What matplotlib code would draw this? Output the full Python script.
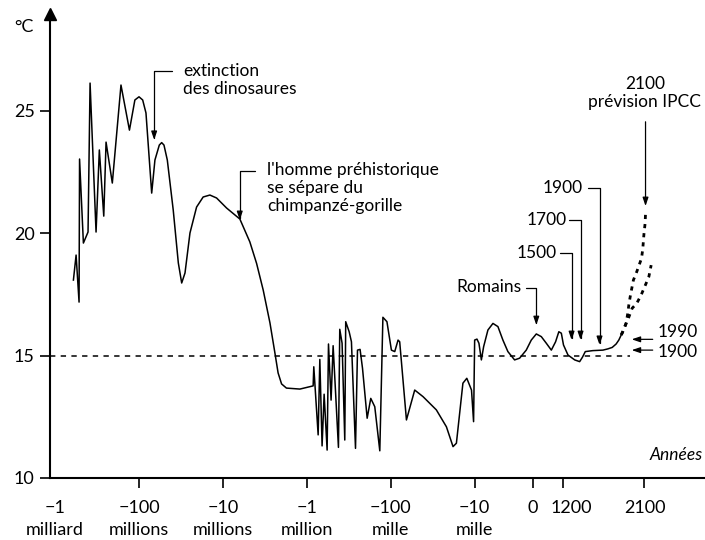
import numpy as np
import matplotlib.pyplot as plt
from matplotlib.transforms import ScaledTranslation

plt.rcParams['font.family'] = ['Lato', 'DejaVu Sans']

# deep time: age in years before present, temperature in degC
deep_age = [6.05e8, 5.62e8, 5.18e8, 5.11e8, 4.60e8, 4.05e8, 3.83e8, 3.25e8, 2.97e8, 2.63e8,
            2.47e8, 2.08e8, 1.64e8, 1.30e8, 1.12e8, 1.00e8, 9.04e7, 8.26e7, 7.06e7, 6.46e7,
            5.73e7, 5.37e7, 5.04e7, 4.60e7, 3.91e7, 3.40e7, 3.10e7, 2.83e7, 2.47e7, 2.06e7,
            1.72e7, 1.43e7, 1.19e7, 9.04e6, 6.28e6, 4.78e6, 3.97e6, 3.31e6, 2.75e6, 2.40e6,
            2.20e6, 2.00e6, 1.75e6, 1.21e6, 8.41e5, 8.26e5, 7.33e5, 7.00e5, 6.58e5, 6.22e5,
            5.73e5, 5.52e5, 5.14e5, 4.86e5, 4.20e5, 4.05e5, 3.80e5, 3.53e5, 3.44e5, 3.13e5,
            2.94e5, 2.63e5, 2.49e5, 2.32e5, 2.17e5, 1.91e5, 1.73e5, 1.55e5, 1.35e5, 1.24e5,
            1.11e5, 9.82e4, 8.96e4, 8.18e4, 7.82e4, 6.50e4, 5.18e4, 4.12e4, 2.86e4, 2.17e4,
            1.81e4, 1.65e4, 1.38e4, 1.24e4, 1.09e4, 1.03e4, 1.00e4]
deep_temp = [18.08, 19.10, 17.18, 23.02, 19.59, 20.04, 26.12, 20.04, 23.39, 20.69,
             23.71, 22.04, 26.04, 24.20, 25.43, 25.56, 25.43, 24.90, 21.63, 22.98,
             23.59, 23.69, 23.59, 22.98, 20.94, 18.78, 17.96, 18.37, 20.00, 21.06,
             21.47, 21.55, 21.43, 21.02, 20.57, 19.64, 18.76, 17.67, 16.33, 15.10,
             14.29, 13.84, 13.67, 13.63, 13.76, 14.54, 11.76, 14.84, 11.31, 13.42,
             11.14, 15.47, 13.18, 15.40, 11.25, 16.07, 15.50, 11.55, 16.38, 15.97,
             15.56, 11.21, 15.22, 15.25, 14.48, 12.44, 13.25, 12.91, 11.11, 16.56,
             16.38, 15.22, 15.16, 15.63, 15.56, 12.37, 13.59, 13.32, 12.78, 12.09,
             11.28, 11.42, 13.87, 14.07, 13.59, 12.30, 15.63]

# holocene and historical period: calendar years
recent_year = [-9600, -9260, -8840, -8450, -7710, -6840, -5980, -5120, -4260, -3100,
               -2240, -1090, -220, 150, 350, 550, 750, 920, 1050, 1150,
               1230, 1380, 1570, 1680, 1720, 1750, 1830, 1914, 1934, 1952,
               1968, 1979, 1989]
recent_temp = [15.67, 15.50, 14.82, 15.36, 16.04, 16.31, 16.18, 15.63, 15.16, 14.82,
               14.89, 15.22, 15.63, 15.88, 15.77, 15.50, 15.22, 15.56, 15.97, 15.91,
               15.43, 15.02, 14.82, 14.75, 14.93, 15.16, 15.20, 15.22, 15.27, 15.33,
               15.47, 15.63, 15.84]

# IPCC projections (two scenarios)
high_year = [1989, 1996, 2012, 2020, 2025, 2033, 2047, 2063, 2086, 2092, 2097, 2103, 2105]
high_temp = [15.84, 15.97, 16.31, 16.72, 17.06, 17.47, 18.08, 18.42, 18.97, 19.37, 19.92, 20.40, 20.80]
low_year = [1989, 1996, 2012, 2020, 2041, 2063, 2084, 2108, 2121, 2132]
low_temp = [15.84, 15.97, 16.31, 16.45, 16.93, 17.13, 17.47, 17.95, 18.22, 18.69]

level_temp = [15.66, 15.22]  # 1990, 1900
level_label = ['1990', '1900']

tick_year = [-1e9, -1e8, -1e7, -1e6, -1e5, -1e4, 0, 1200, 2100]
tick_label = ['\u22121\nmilliard', '\u2212100\nmillions', '\u221210\nmillions', '\u22121\nmillion',
              '\u2212100\nmille', '\u221210\nmille', '0', '1200', '2100']

# piecewise time axis: log of age before -10000, then stretched linear pieces
anchor_year = [-1e4, 0, 1200, 1500, 1700, 1900, 1990, 2100, 2400]
anchor_pos = [5.0, 5.69, 6.048, 6.155, 6.262, 6.488, 6.75, 7.024, 7.77]


def to_pos(t):
    t = np.asarray(t, float)
    with np.errstate(invalid='ignore', divide='ignore'):
        deep = 9 - np.log10(np.clip(-t, 1e4, None))
    near = np.interp(t, anchor_year, anchor_pos)
    return np.where(t < -1e4, deep, near)


def from_pos(u):
    u = np.asarray(u, float)
    deep = -10 ** (9 - np.minimum(u, 5))
    near = np.interp(u, anchor_pos, anchor_year)
    return np.where(u < 5, deep, near)


fig = plt.figure(figsize=(7.05, 5.4), dpi=100)
ax = fig.add_axes([50 / 705, 62 / 540, 655 / 705, 464 / 540])
ax.set_xscale('function', functions=(to_pos, from_pos))
ax.set_xlim(-1.15e9, 2390)
ax.set_ylim(10, 28.94)

years = np.concatenate([-np.array(deep_age), recent_year])
temps = np.concatenate([deep_temp, recent_temp])
ax.plot(years, temps, color='black', lw=1.1)
ax.plot(high_year, high_temp, color='black', lw=2.0, ls=(0, (1.5, 1.8)))
ax.plot(low_year, low_temp, color='black', lw=2.0, ls=(0, (1.5, 1.8)))
ax.hlines(15, -1.15e9, 2033, color='black', lw=1.1, ls=(0, (3.5, 3.5)))

for s in ['top', 'right']:
    ax.spines[s].set_visible(False)
for s in ['left', 'bottom']:
    ax.spines[s].set_linewidth(1.5)
ax.plot(0, 1, marker='^', ms=8, color='black', transform=ax.transAxes, clip_on=False)

ax.set_yticks([10, 15, 20, 25])
ax.tick_params(axis='y', labelsize=13, length=7, width=1.2, pad=4)
ax.set_xticks(tick_year)
ax.set_xticklabels(tick_label, linespacing=1.45)
ax.tick_params(axis='x', labelsize=13, length=7, width=1.2, pad=9)
ax.xaxis.get_major_ticks()[0].tick1line.set_visible(False)
lab = ax.get_xticklabels()[7]
lab.set_transform(lab.get_transform() + ScaledTranslation(0.09, 0, fig.dpi_scale_trans))

fig.text(24, 513, '°C', fontsize=13, ha='center', va='center', transform=None)
fig.text(650, 85, 'Années', fontsize=12.5, style='italic', ha='left', va='center', transform=None)

head = '-|>,head_length=0.5,head_width=0.17'
elbow = dict(arrowstyle=head, connectionstyle='angle,angleA=0,angleB=90,rad=0',
             color='black', lw=0.9, shrinkA=0, shrinkB=0)
straight = dict(arrowstyle=head, color='black', lw=0.9, shrinkA=0, shrinkB=0)


def bracket(xy, start, label, text_xy, ha):
    ax.annotate('', xy=xy, xycoords='data', xytext=start, textcoords='figure pixels', arrowprops=elbow)
    fig.text(text_xy[0], text_xy[1], label, fontsize=12.5, ha=ha, va='center', linespacing=1.15, transform=None)


bracket((-6.6e7, 23.8), (172, 469), 'extinction\ndes dinosaures', (183, 460), 'left')
bracket((-6.3e6, 20.53), (255, 369.3), "l'homme préhistorique\nse sépare du\nchimpanzé-gorille", (267, 352), 'left')
bracket((150, 16.24), (526, 251.7), 'Romains', (522, 253), 'right')
bracket((1500, 15.63), (560, 286.7), '1500', (557, 287), 'right')
bracket((1700, 15.63), (569, 320), '1700', (567, 320), 'right')
bracket((1900, 15.43), (588, 351.7), '1900', (583, 352), 'right')

ax.annotate('', xy=(high_year[-1], 21.1), xytext=(high_year[-1], 24.54), arrowprops=straight)
fig.text(645, 447, '2100\nprévision IPCC', fontsize=12.5, ha='center', va='center',
         multialignment='center', linespacing=1.15, transform=None)

for temp, lbl, ty in zip(level_temp, level_label, [208, 188]):
    ax.annotate('', xy=(631.7, temp), xycoords=('figure pixels', 'data'),
                xytext=(652.7, temp), textcoords=('figure pixels', 'data'), arrowprops=straight)
    fig.text(658, ty, lbl, fontsize=12.5, ha='left', va='center', transform=None)

fig.savefig('out.png', dpi=100)
